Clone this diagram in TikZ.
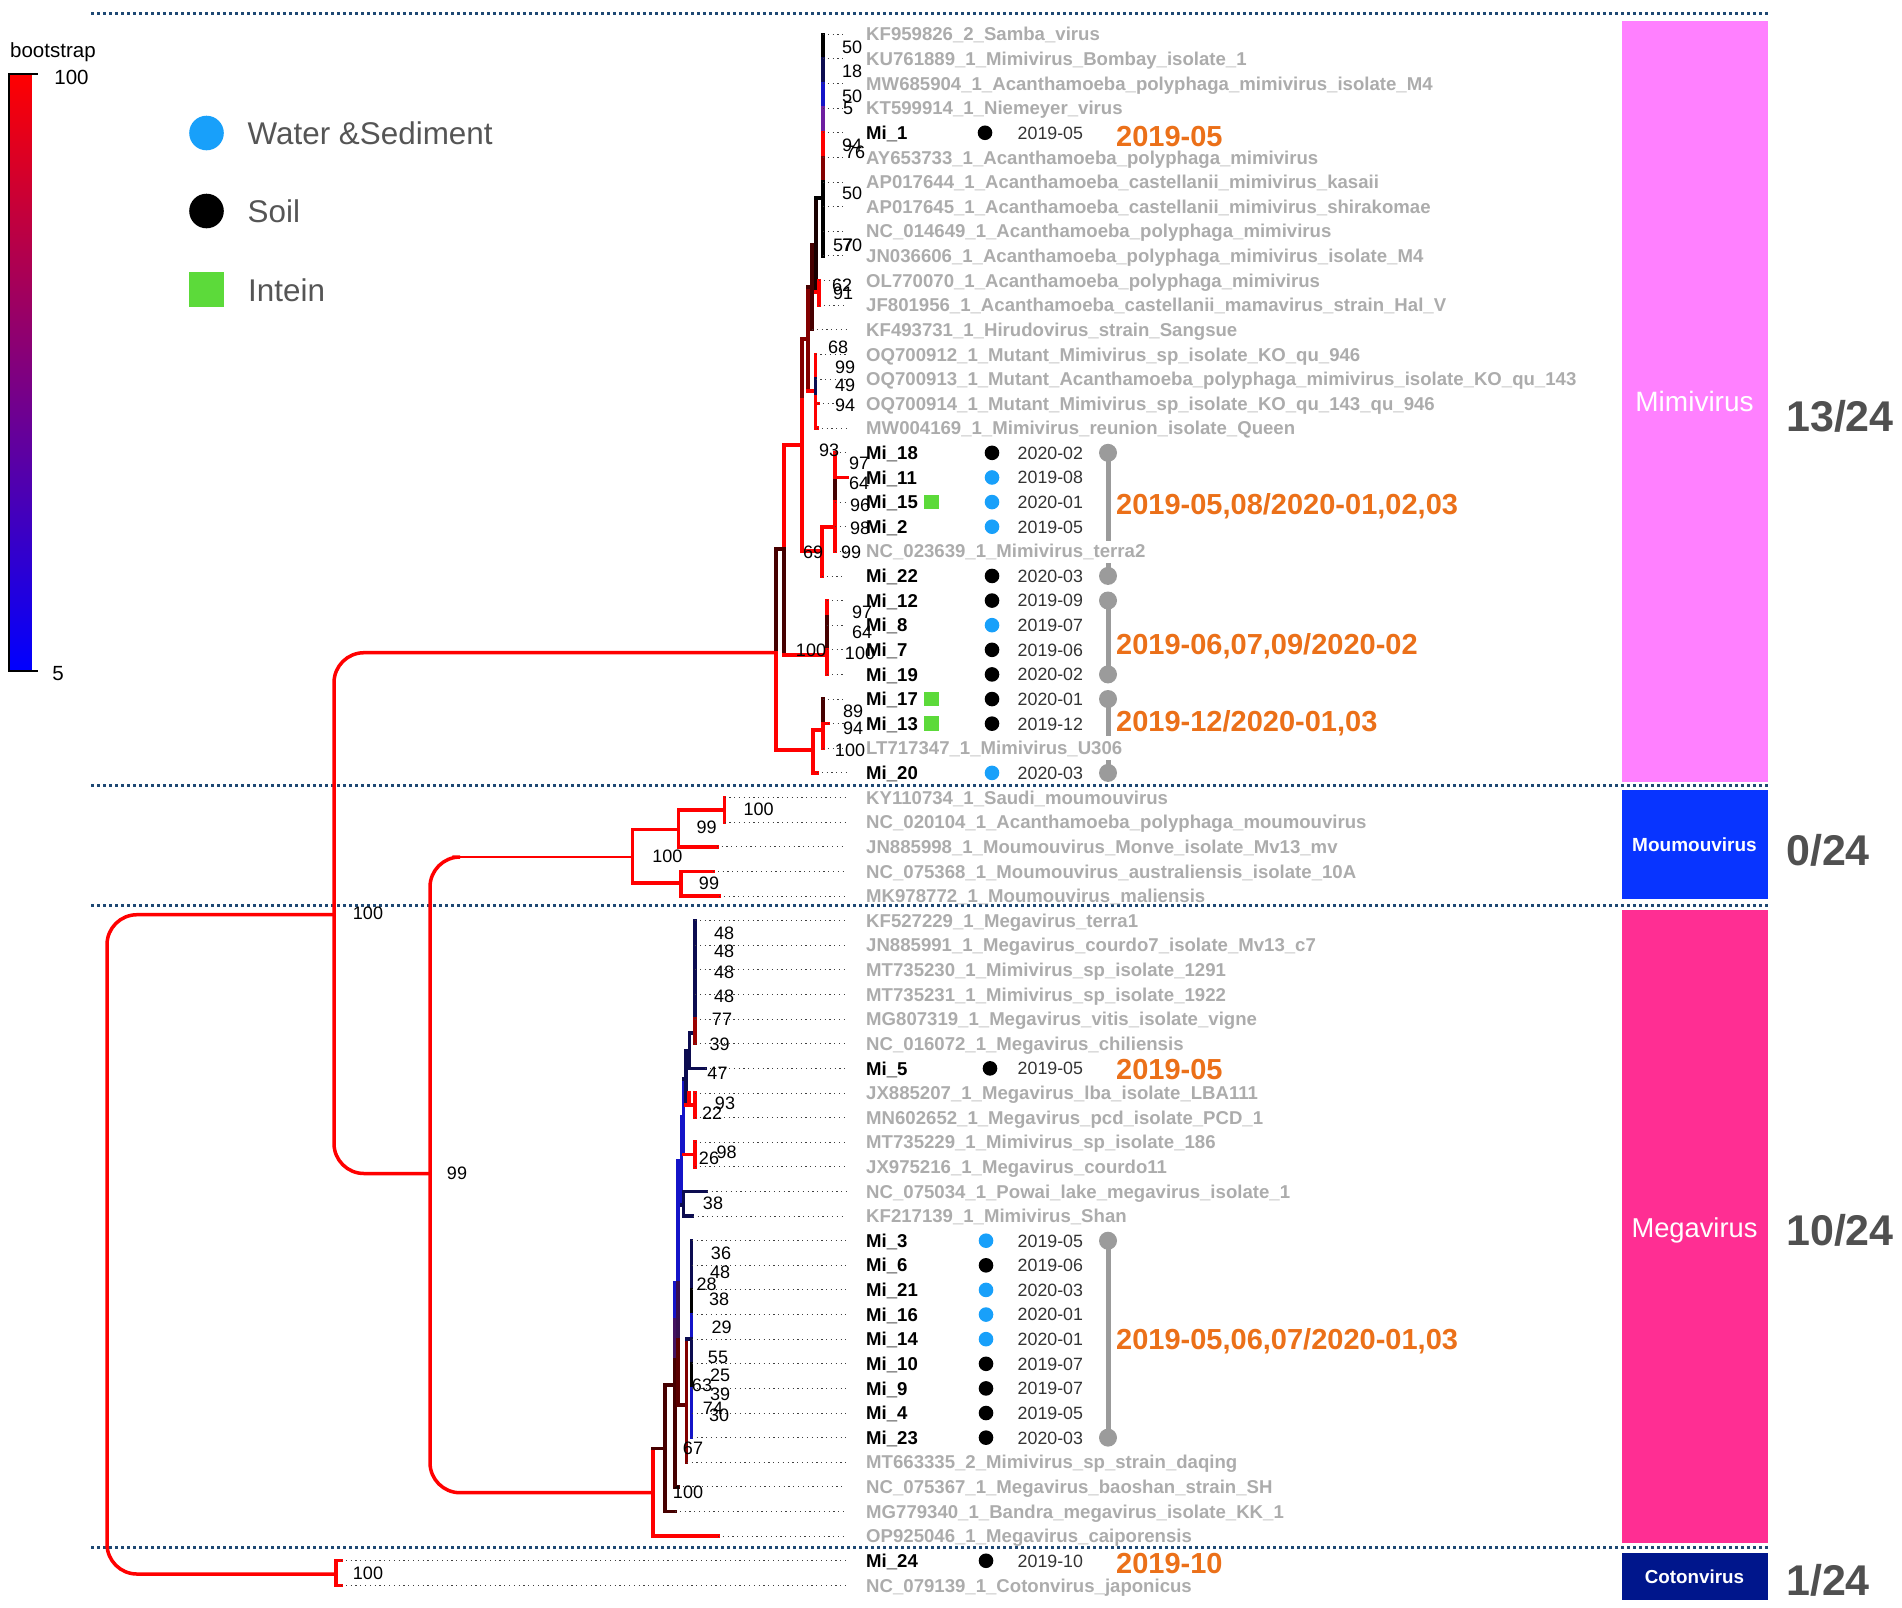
\documentclass[tikz,border=0pt]{standalone}
\usepackage{fontspec}
\setmainfont{Liberation Sans}
\definecolor{sepblue}{RGB}{30,72,115}
\definecolor{tipgray}{RGB}{172,172,172}
\definecolor{dategray}{RGB}{51,51,51}
\definecolor{wsblue}{RGB}{24,160,250}
\definecolor{intgreen}{RGB}{92,218,58}
\definecolor{orlab}{RGB}{235,112,25}
\definecolor{lollygray}{RGB}{155,155,155}
\definecolor{cntgray}{RGB}{80,80,80}
\definecolor{barmimi}{RGB}{255,128,255}
\definecolor{barmou}{RGB}{8,52,255}
\definecolor{barmega}{RGB}{255,46,147}
\definecolor{barcot}{RGB}{0,22,140}
\definecolor{dkred}{RGB}{130,0,0}
\definecolor{brn}{RGB}{70,0,0}
\definecolor{nvy}{RGB}{12,12,80}
\definecolor{bblue}{RGB}{20,20,200}
\definecolor{purp}{RGB}{110,30,160}
\definecolor{legtext}{RGB}{85,85,85}
\begin{document}
\begin{tikzpicture}[x=1pt,y=-1pt,
 tr/.style={line width=3.5pt,line cap=rect},
 lead/.style={line width=0.9pt,dash pattern=on 1.2pt off 3.6pt,black!75},
 sep/.style={line width=3pt,dash pattern=on 3pt off 3pt,sepblue},
 tipg/.style={anchor=west,inner sep=0pt,text height=13.3pt,text depth=0pt,font=\fontsize{18.6}{20}\selectfont\bfseries,text=tipgray},
 tipm/.style={tipg,text=black},
 bs/.style={inner sep=0pt,text height=12.9pt,text depth=0pt,font=\fontsize{18}{20}\selectfont,text=black},
 datel/.style={anchor=west,inner sep=0pt,text height=12.7pt,text depth=0pt,font=\fontsize{17.8}{20}\selectfont,text=dategray},
 orl/.style={anchor=west,inner sep=0pt,text height=20.8pt,text depth=0pt,font=\fontsize{29}{32}\selectfont\bfseries,text=orlab},
 cnt/.style={anchor=west,inner sep=0pt,text height=30.8pt,text depth=0pt,font=\fontsize{43}{46}\selectfont\bfseries,text=cntgray},
 lolly/.style={line width=5pt,lollygray},
 legl/.style={anchor=west,inner sep=0pt,text height=22.5pt,text depth=0pt,font=\fontsize{31.4}{34}\selectfont,text=legtext},
 barl/.style={inner sep=0pt,text=white},
 cbl/.style={inner sep=0pt,font=\fontsize{20.5}{22}\selectfont,text=black}
]
\useasboundingbox (0,0) rectangle (1902,1607);

% ---------- colour bar ----------
\shade[top color=red,middle color=black,bottom color=blue] (9,73.7) rectangle (31.4,670.5);
\draw[line width=2pt,black] (37.5,73.7) -- (9,73.7) -- (9,670.5) -- (37.5,670.5);
\node[cbl,anchor=base west] (cbtitle) at (10,57.8) {bootstrap};
\node[cbl,text height=14.6pt,text depth=0pt] (cbmax) at (71.5,76.8) {100};
\node[cbl,text height=14.6pt,text depth=0pt] (cbmin) at (58,673) {5};

% ---------- legend ----------
\fill[wsblue] (206.5,133) circle (17.3pt);
\fill[black] (206.5,211) circle (17.3pt);
\fill[intgreen] (189.3,272.3) rectangle (224,307);
\node[legl] (lg1) at (247.5,133) {Water \&Sediment};
\node[legl] (lg2) at (247.5,211) {Soil};
\node[legl] (lg3) at (248,290) {Intein};

% ---------- separators ----------
\foreach \yy in {13,785,905,1547} \draw[sep] (91,\yy) -- (1770,\yy);

% ---------- right bars ----------
\fill[barmimi] (1622,20.5) rectangle (1767.5,782);
\fill[barmou] (1622,790) rectangle (1767.5,899);
\fill[barmega] (1622,909.6) rectangle (1767.5,1542.7);
\fill[barcot] (1622,1552.5) rectangle (1767.5,1600);
\node[barl,font=\fontsize{28}{30}\selectfont,text height=20pt,text depth=0pt] (bmimi) at (1694.5,401) {Mimivirus};
\node[barl,font=\fontsize{19}{21}\selectfont\bfseries,text height=13.6pt,text depth=0pt] (bmou) at (1694.5,845) {Moumouvirus};
\node[barl,font=\fontsize{27.3}{30}\selectfont,text height=19.5pt,text depth=0pt] (bmega) at (1694.5,1228) {Megavirus};
\node[barl,font=\fontsize{18.8}{21}\selectfont\bfseries,text height=13.5pt,text depth=0pt] (bcot) at (1694.5,1577) {Cotonvirus};
\node[cnt] (c1) at (1786,416) {13/24};
\node[cnt] (c2) at (1786,850) {0/24};
\node[cnt] (c3) at (1786,1229.7) {10/24};
\node[cnt] (c4) at (1786,1579.7) {1/24};

% ---------- tree: deep nodes ----------
\draw[tr,red,rounded corners=30pt] (334,914.7) -- (107,914.7) -- (107,1574) -- (336,1574);
\draw[tr,red,rounded corners=30pt] (776,652.7) -- (334,652.7) -- (334,1173.5) -- (430,1173.5);
\draw[tr,red,rounded corners=30pt] (454,857) -- (430,857) -- (430,1492.7) -- (653,1492.7);
\draw[red,line width=1.6pt] (452,857) -- (632.7,857);
% Cotonvirus
\draw[tr,red] (336,1560.7) -- (336,1585.4);
\draw[tr,red] (336,1560.7) -- (341,1560.7);
\draw[tr,red] (336,1585.4) -- (341,1585.4);

% ---------- Moumouvirus ----------
\draw[tr,red] (632.7,829.3) -- (632.7,883.2);
\draw[tr,red] (632.7,829.3) -- (678.6,829.3);
\draw[tr,red] (678.6,810) -- (678.6,846.8);
\draw[tr,red] (678.6,810) -- (724.5,810);
\draw[tr,red] (724.5,797.5) -- (724.5,822.1);
\draw[tr,red] (678.6,846.8) -- (716.8,846.8);
\draw[tr,red] (632.7,883.2) -- (681,883.2);
\draw[tr,red] (681,871.4) -- (681,896);
\draw[tr,red] (681,871.4) -- (713,871.4);
\draw[tr,red] (681,896) -- (719,896);

% ---------- Mimivirus ----------
\draw[tr,brn] (776,549) -- (776,652.7);
\draw[tr,red] (776,652.7) -- (776,750);
\draw[tr,brn] (776,549) -- (784,549);
\draw[tr,red] (784,445) -- (784,549);
\draw[tr,brn] (784,549) -- (784,655);
\draw[tr,red] (784,445) -- (802,445);
\draw[tr,red] (784,655) -- (827,655);
% M2
\draw[tr,dkred] (802,339) -- (802,400);
\draw[tr,red] (802,400) -- (802,551);
\draw[tr,dkred] (802,339) -- (808,339);
\draw[tr,red] (802,551) -- (822,551);
% N_terra
\draw[tr,red] (822,527) -- (822,576);
\draw[tr,red] (822,527) -- (835,527);
\draw[tr,red] (835,452.8) -- (835,478);
\draw[tr,brn] (835,478) -- (835,502);
\draw[tr,red] (835,502) -- (835,551.3);
\draw[tr,red] (835,477.5) -- (847,477.5);
% C100
\draw[tr,red] (827,600.5) -- (827,617);
\draw[tr,brn] (827,617) -- (827,650);
\draw[tr,red] (827,650) -- (827,674.4);
% lower clade
\draw[tr,red] (776,750) -- (813,750);
\draw[tr,red] (813,730) -- (813,772.9);
\draw[tr,red] (813,772.9) -- (817,772.9);
\draw[tr,red] (813,730) -- (823,730);
\draw[tr,brn] (823,699) -- (823,723.7);
\draw[tr,red] (823,723.7) -- (823,748.3);
\draw[tr,red] (823,723.7) -- (828,723.7);
% big upper group
\draw[tr,dkred] (808,287) -- (808,391);
\draw[tr,red] (808,391) -- (815.5,391);
\draw[tr,red] (815.5,354.4) -- (815.5,379);
\draw[tr,nvy] (815.5,379) -- (815.5,397);
\draw[tr,red] (815.5,397) -- (815.5,428.2);
\draw[tr,red] (815.5,403.6) -- (818,403.6);
\draw[tr,red] (815.5,428.2) -- (817,428.2);
\draw[tr,brn] (808,287) -- (812,287);
\draw[tr,brn] (812,245) -- (812,329.7);
\draw[tr,brn] (812,245) -- (816,245);
\draw[tr,black!90!red] (816,198) -- (816,292);
\draw[tr,black] (816,198) -- (823,198);
\draw[tr,red] (816,292) -- (819,292);
\draw[tr,red] (819,280.5) -- (819,305.1);
% polytomy A
\draw[tr,black] (823,34.3) -- (823,58.9);
\draw[tr,nvy] (823,58.9) -- (823,83.5);
\draw[tr,bblue] (823,83.5) -- (823,108.2);
\draw[tr,purp] (823,108.2) -- (823,132.8);
\draw[tr,red] (823,132.8) -- (823,157.4);
\draw[tr,dkred] (823,157.4) -- (823,182);
\draw[tr,black] (823,182) -- (823,255.9);

% ---------- Megavirus ----------
\draw[tr,red] (653,1448.5) -- (653,1536.1);
\draw[tr,red] (653,1536.1) -- (718,1536.1);
\draw[tr,brn] (653,1448.5) -- (665,1448.5);
\draw[tr,brn] (665,1385) -- (665,1511.5);
\draw[tr,brn] (665,1511.5) -- (675,1511.5);
\draw[tr,brn] (665,1385) -- (675,1385);
\draw[tr,bblue] (675,1283) -- (675,1320);
\draw[tr,purp!60!black] (675,1320) -- (675,1360);
\draw[tr,brn] (675,1360) -- (675,1486.9);
\draw[tr,brn] (675,1486.9) -- (678,1486.9);
\draw[tr,bblue] (675,1283) -- (678,1283);
\draw[tr,bblue] (678,1161) -- (678,1283);
\draw[tr,purp!50!black] (678,1283) -- (678,1340);
\draw[tr,dkred!70!black] (678,1340) -- (678,1405);
\draw[tr,dkred!70!black] (678,1405) -- (686.7,1405);
\draw[tr,dkred] (686.7,1339) -- (686.7,1462.3);
\draw[tr,nvy] (686.7,1339) -- (691.7,1339);
% Mi cluster
\draw[tr,nvy] (691.7,1240.7) -- (691.7,1289.9);
\draw[tr,black] (691.7,1289.9) -- (691.7,1314.5);
\draw[tr,bblue] (691.7,1314.5) -- (691.7,1339.2);
\draw[tr,nvy] (691.7,1339.2) -- (691.7,1363.8);
\draw[tr,black] (691.7,1363.8) -- (691.7,1388.4);
\draw[tr,bblue] (691.7,1388.4) -- (691.7,1437.6);
% MEGA_4
\draw[tr,bblue] (678,1161) -- (681.7,1161);
\draw[tr,bblue] (681.7,1116.5) -- (681.7,1205);
\draw[tr,nvy] (681.7,1205) -- (683.3,1205);
\draw[tr,nvy] (683.3,1191.4) -- (683.3,1216.1);
\draw[tr,nvy] (683.3,1191.4) -- (706.7,1191.4);
\draw[tr,nvy] (683.3,1216.1) -- (692.7,1216.1);
% MEGA_5
\draw[tr,bblue] (681.7,1116.5) -- (683.3,1116.5);
\draw[tr,bblue] (683.3,1079) -- (683.3,1154.5);
\draw[tr,red] (683.3,1154.5) -- (695,1154.5);
\draw[tr,red] (695,1142.2) -- (695,1166.8);
% MEGA_6
\draw[tr,nvy] (683.3,1079) -- (686,1079);
\draw[tr,nvy] (686,1051) -- (686,1105);
\draw[tr,red] (689,1093) -- (689,1105);
\draw[tr,red] (686,1105) -- (695,1105);
\draw[tr,red] (695,1093) -- (695,1117.6);
% MEGA_7
\draw[tr,nvy] (686,1051) -- (689.3,1051);
\draw[tr,nvy] (689.3,1033) -- (689.3,1068.3);
\draw[tr,nvy] (689.3,1068.3) -- (705,1068.3);
\draw[tr,nvy] (689.3,1033) -- (695,1033);
\draw[tr,nvy] (695,920.6) -- (695,1019.1);
\draw[tr,dkred!80!red] (695,1019.1) -- (695,1043.7);

% ---------- leaders ----------
\foreach \i/\x in {1/823,2/823,3/823,4/823,5/823,6/823,7/823,8/823,9/823,10/823,
 11/819,12/819,13/812,14/815.5,15/815.5,16/818,17/817,18/835,20/835,21/835,22/835,
 23/822,24/827,25/827,26/827,27/827,28/823,29/828,30/823,31/817,
 32/724.5,33/724.5,34/716.8,35/713,36/719,
 37/695,38/695,39/695,40/695,41/695,42/695,43/705,44/695,45/695,46/695,47/695,
 48/706.7,49/692.7,50/691.7,51/691.7,52/691.7,53/691.7,54/691.7,55/691.7,56/691.7,
 57/691.7,58/691.7,59/686.7,60/678,61/675,62/718,63/341,64/341}
 \draw[lead] (\x,{34.3+(\i-1)*24.62}) -- (846,{34.3+(\i-1)*24.62});

% ---------- lollipops ----------
\draw[lolly] (1108,452.8) -- (1108,541);
\draw[lolly] (1108,563) -- (1108,575.9);
\draw[lolly] (1108,600.5) -- (1108,674.4);
\draw[lolly] (1108,699) -- (1108,736);
\draw[lolly] (1108,760) -- (1108,772.9);
\draw[lolly] (1108,1240.7) -- (1108,1437.6);
\foreach \yy in {452.8,575.9,600.5,674.4,699,772.9,1240.7,1437.6}
 \fill[lollygray] (1108,\yy) circle (9pt);

% ---------- bootstrap labels ----------
\foreach \x/\y/\v [count=\n] in {852/46.7/50,852/71.5/18,852/96/50,848/108/5,852/145/94,855/151.7/76,
 852/193/50,843/245/57,852/245/70,842/285/62,843/293/91,838/347/68,845/367/99,845/385/49,845/405/94,
 829/450/93,859/463/97,859/483/64,860/505/96,860/528/98,851/552/99,813/552/69,
 862/612/97,862/632/64,860/653/100,811/650/100,853/711/89,853/728/94,850/750/100,
 758.7/809.4/100,706.6/827.4/99,667.3/855.6/100,709/883.2/99,
 368/912.8/100,457/1173/99,368/1573/100,
 724/932.7/48,724/950.7/48,724/971.7/48,724/995.7/48,722/1019/77,719.6/1044/39,717.5/1073/47,
 725/1103/93,712/1113/22,726.7/1152/98,709/1158/26,713/1203/38,
 721/1253/36,720/1271.7/48,706.7/1284/28,719/1299/38,721.7/1326.7/29,718/1357/55,720/1375/25,
 702/1385/63,720/1394/39,713/1408/74,719/1415/30,693/1448/67,688/1491.7/100}
 \node[bs] (bs\n) at (\x,\y) {\v};

% ---------- reference tip labels ----------
\foreach \i/\nm in {1/KF959826\_2\_Samba\_virus,
 2/KU761889\_1\_Mimivirus\_Bombay\_isolate\_1,
 3/MW685904\_1\_Acanthamoeba\_polyphaga\_mimivirus\_isolate\_M4,
 4/KT599914\_1\_Niemeyer\_virus,
 6/AY653733\_1\_Acanthamoeba\_polyphaga\_mimivirus,
 7/AP017644\_1\_Acanthamoeba\_castellanii\_mimivirus\_kasaii,
 8/AP017645\_1\_Acanthamoeba\_castellanii\_mimivirus\_shirakomae,
 9/NC\_014649\_1\_Acanthamoeba\_polyphaga\_mimivirus,
 10/JN036606\_1\_Acanthamoeba\_polyphaga\_mimivirus\_isolate\_M4,
 11/OL770070\_1\_Acanthamoeba\_polyphaga\_mimivirus,
 12/JF801956\_1\_Acanthamoeba\_castellanii\_mamavirus\_strain\_Hal\_V,
 13/KF493731\_1\_Hirudovirus\_strain\_Sangsue,
 14/OQ700912\_1\_Mutant\_Mimivirus\_sp\_isolate\_KO\_qu\_946,
 15/OQ700913\_1\_Mutant\_Acanthamoeba\_polyphaga\_mimivirus\_isolate\_KO\_qu\_143,
 16/OQ700914\_1\_Mutant\_Mimivirus\_sp\_isolate\_KO\_qu\_143\_qu\_946,
 17/MW004169\_1\_Mimivirus\_reunion\_isolate\_Queen,
 22/NC\_023639\_1\_Mimivirus\_terra2,
 30/LT717347\_1\_Mimivirus\_U306,
 32/KY110734\_1\_Saudi\_moumouvirus,
 33/NC\_020104\_1\_Acanthamoeba\_polyphaga\_moumouvirus,
 34/JN885998\_1\_Moumouvirus\_Monve\_isolate\_Mv13\_mv,
 35/NC\_075368\_1\_Moumouvirus\_australiensis\_isolate\_10A,
 36/MK978772\_1\_Moumouvirus\_maliensis,
 37/KF527229\_1\_Megavirus\_terra1,
 38/JN885991\_1\_Megavirus\_courdo7\_isolate\_Mv13\_c7,
 39/MT735230\_1\_Mimivirus\_sp\_isolate\_1291,
 40/MT735231\_1\_Mimivirus\_sp\_isolate\_1922,
 41/MG807319\_1\_Megavirus\_vitis\_isolate\_vigne,
 42/NC\_016072\_1\_Megavirus\_chiliensis,
 44/JX885207\_1\_Megavirus\_lba\_isolate\_LBA111,
 45/MN602652\_1\_Megavirus\_pcd\_isolate\_PCD\_1,
 46/MT735229\_1\_Mimivirus\_sp\_isolate\_186,
 47/JX975216\_1\_Megavirus\_courdo11,
 48/NC\_075034\_1\_Powai\_lake\_megavirus\_isolate\_1,
 49/KF217139\_1\_Mimivirus\_Shan,
 59/MT663335\_2\_Mimivirus\_sp\_strain\_daqing,
 60/NC\_075367\_1\_Megavirus\_baoshan\_strain\_SH,
 61/MG779340\_1\_Bandra\_megavirus\_isolate\_KK\_1,
 62/OP925046\_1\_Megavirus\_caiporensis,
 64/NC\_079139\_1\_Cotonvirus\_japonicus}
 \node[tipg] (tip\i) at (866,{34.3+(\i-1)*24.62}) {\nm};

% ---------- sample tips ----------
\foreach \i/\nm/\cc/\dt/\dx in {5/Mi\_1/black/2019-05/985,18/Mi\_18/black/2020-02/992,
 19/Mi\_11/wsblue/2019-08/992,20/Mi\_15/wsblue/2020-01/992,21/Mi\_2/wsblue/2019-05/992,
 23/Mi\_22/black/2020-03/992,24/Mi\_12/black/2019-09/992,25/Mi\_8/wsblue/2019-07/992,
 26/Mi\_7/black/2019-06/992,27/Mi\_19/black/2020-02/992,28/Mi\_17/black/2020-01/992,
 29/Mi\_13/black/2019-12/992,31/Mi\_20/wsblue/2020-03/992,43/Mi\_5/black/2019-05/990,
 50/Mi\_3/wsblue/2019-05/986,51/Mi\_6/black/2019-06/986,52/Mi\_21/wsblue/2020-03/986,
 53/Mi\_16/wsblue/2020-01/986,54/Mi\_14/wsblue/2020-01/986,55/Mi\_10/black/2019-07/986,
 56/Mi\_9/black/2019-07/986,57/Mi\_4/black/2019-05/986,58/Mi\_23/black/2020-03/986,
 63/Mi\_24/black/2019-10/986}
{
 \pgfmathsetmacro\yy{34.3+(\i-1)*24.62}
 \node[tipm] (mi\i) at (866,\yy) {\nm};
 \fill[\cc] (\dx,\yy) circle (7.3pt);
 \node[datel] (dt\i) at (1017.5,\yy) {\dt};
}
\foreach \i in {20,28,29}
 \fill[intgreen] (924.3,{34.3+(\i-1)*24.62-7.3}) rectangle (938.9,{34.3+(\i-1)*24.62+7.3});

% ---------- orange period labels ----------
\node[orl] (o1) at (1116,136) {2019-05};
\node[orl] (o2) at (1116,504) {2019-05,08/2020-01,02,03};
\node[orl] (o3) at (1116,644.5) {2019-06,07,09/2020-02};
\node[orl] (o4) at (1116,721) {2019-12/2020-01,03};
\node[orl] (o5) at (1116,1068.7) {2019-05};
\node[orl] (o6) at (1116,1339) {2019-05,06,07/2020-01,03};
\node[orl] (o7) at (1116,1562.7) {2019-10};
\end{tikzpicture}
\end{document}
